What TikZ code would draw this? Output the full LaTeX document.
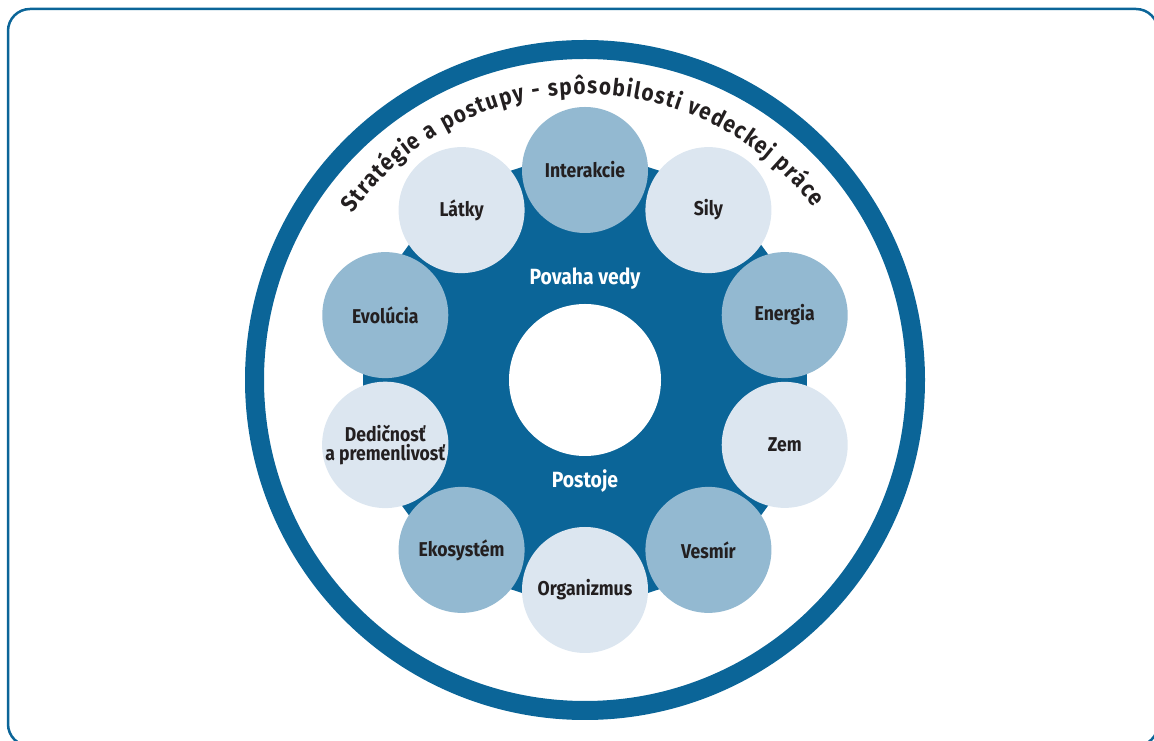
\documentclass[tikz,border=0pt]{standalone}
\usepackage{fontspec}
\setmainfont{Fira Sans}[FakeStretch=0.88]
\usetikzlibrary{decorations.text}
\definecolor{mainblue}{HTML}{0B6598}
\definecolor{midblue}{HTML}{93B9D1}
\definecolor{paleblue}{HTML}{DCE6F0}
\definecolor{txt}{HTML}{231F20}
\newcommand\ringfont{\bfseries\fontsize{23.5}{23.5}\selectfont}
\begin{document}
\begin{tikzpicture}[x=1pt,y=1pt,
  topic/.style={circle, minimum size=126pt, inner sep=0pt, text=txt,
    font=\bfseries\fontsize{20}{19.5}\selectfont, align=center},
  darktopic/.style={topic, fill=midblue},
  lighttopic/.style={topic, fill=paleblue},
  core/.style={text=white, font=\bfseries\fontsize{22}{22}\selectfont, inner sep=0pt}]
\useasboundingbox (0,0) rectangle (1154,741);
\begin{scope}
  \clip (0,0) rectangle (1154,741);
  \draw[mainblue, line width=2.5pt, rounded corners=22pt] (8,-5) rectangle (1158,732);
\end{scope}
\coordinate (C) at (585,361);
% outer ring
\draw[mainblue, line width=19pt] (C) circle[radius=330.5];
% decagon
\fill[mainblue, shift={(585,361)}] (18:233.4) -- (54:233.4) -- (90:233.4) -- (126:233.4)
  -- (162:233.4) -- (198:233.4) -- (234:233.4) -- (270:233.4) -- (306:233.4) -- (342:233.4) -- cycle;
\fill[white] (C) circle[radius=76];
% topic circles
\path (C) ++(90:210)  node[darktopic]  (interakcie) {Interakcie};
\path (C) ++(54:210)  node[lighttopic] (sily) {Sily};
\path (C) ++(18:210)  node[darktopic]  (energia) {Energia};
\path (C) ++(-18:210) node[lighttopic] (zem) {Zem};
\path (C) ++(-54:210) node[darktopic]  (vesmir) {Vesmír};
\path (C) ++(-90:210) node[lighttopic] (organizmus) {Organizmus};
\path (C) ++(234:210) node[darktopic]  (ekosystem) {Ekosystém};
\path (C) ++(198:210) node[lighttopic] (dedicnost) {Dedičnosť\\a premenlivosť};
\path (C) ++(162:210) node[darktopic]  (evolucia) {Evolúcia};
\path (C) ++(126:210) node[lighttopic] (latky) {Látky};
% core labels
\node[core] (povaha) at (585,462) {Povaha vedy};
\node[core] (postoje) at (585,260) {Postoje};
% ring title
\path[decorate, decoration={text along path, text align={fit to path},
  text={|\ringfont\color{txt}|Stratégie a postupy - spôsobilosti vedeckej práce}}]
  (C) ++(144.5:286) arc[start angle=144.5, end angle=37, radius=286];
\end{tikzpicture}
\end{document}
